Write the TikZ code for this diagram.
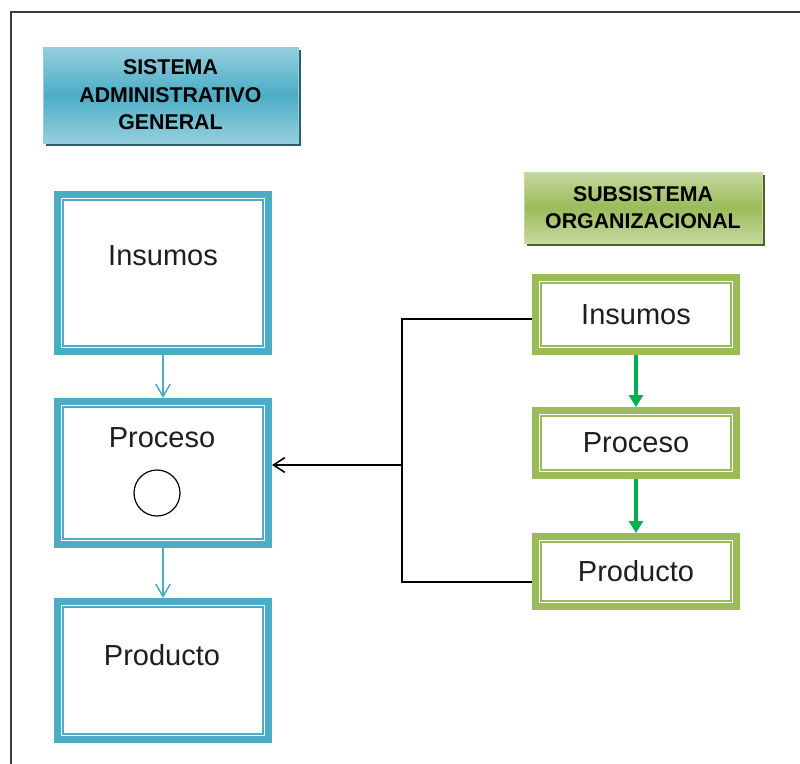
\documentclass[tikz,border=0pt]{standalone}
\usepackage{fontspec}
\setmainfont{Liberation Sans}
\usetikzlibrary{arrows.meta,calc,shadows}

\definecolor{bandblue}{HTML}{4BACC6}
\definecolor{bandgreen}{HTML}{9BBB59}
\definecolor{flowgreen}{HTML}{00B050}
\definecolor{hdrblueL}{HTML}{95CFDE}
\definecolor{hdrblueD}{HTML}{4DADC6}
\definecolor{hdrblueS}{HTML}{2D5E6B}
\definecolor{hdrgreenL}{HTML}{C6D9A0}
\definecolor{hdrgreenD}{HTML}{9BBB59}
\definecolor{hdrgreenS}{HTML}{4F6228}
\definecolor{framegray}{HTML}{3C3C3C}
\definecolor{inkgray}{HTML}{1E1E1E}

\newcommand\hdrfont{\fontsize{16pt}{20.6pt}\selectfont\bfseries}
\newcommand\bodyfont{\fontsize{21.75pt}{26pt}\selectfont}

\begin{document}
\begin{tikzpicture}[x=0.75pt,y=-0.75pt,
  hdrbox/.style={rectangle, line width=0.75pt, align=center, font=\hdrfont,
    text=black, inner sep=0pt},
  hdrblue/.style={hdrbox, draw=hdrblueL, top color=hdrblueL, bottom color=hdrblueL,
    middle color=hdrblueD,
    drop shadow={shadow xshift=2.6pt, shadow yshift=-2.6pt, opacity=1, fill=hdrblueS}},
  hdrgreen/.style={hdrbox, draw=hdrgreenL, top color=hdrgreenL, bottom color=hdrgreenL,
    middle color=hdrgreenD,
    drop shadow={shadow xshift=2.6pt, shadow yshift=-2.6pt, opacity=1, fill=hdrgreenS}},
  stagebox/.style={rectangle, line width=5.25pt, outer sep=2.625pt, fill=white,
    inner sep=0pt, font=\bodyfont, text=inkgray},
  bluestage/.style={stagebox, draw=bandblue, minimum width=158.25pt},
  greenstage/.style={stagebox, draw=bandgreen, minimum width=150.75pt},
  innerblue/.style={draw=bandblue, line width=1.1pt},
  innergreen/.style={draw=bandgreen, line width=1.1pt},
  stagetext/.style={font=\bodyfont, text=inkgray, inner sep=0pt},
  bluelink/.style={draw=bandblue, line width=1.1pt,
    -{Straight Barb[length=9.5pt,width=11pt,line width=1.1pt]}},
  greenlink/.style={draw=flowgreen, line width=2.6pt,
    -{Triangle[length=9pt,width=10.5pt]}},
  feedline/.style={draw=black, line width=1.2pt},
  feedarrow/.style={feedline, -{Straight Barb[length=8.5pt,width=11pt,line width=1.2pt]}}
]
\useasboundingbox (0,0) rectangle (800,764);

% outer frame (top and left edges)
\draw[framegray, line width=1.5pt] (800,12) -- (11,12) -- (11,764);

% headers
\node[hdrblue, minimum width=191.25pt, minimum height=72pt] (hA) at (170.5,95)
  {SISTEMA\\ADMINISTRATIVO\\GENERAL};
\node[hdrgreen, minimum width=178.5pt, minimum height=53.25pt] (hB) at (643,207.5)
  {SUBSISTEMA\\ORGANIZACIONAL};

% general administrative system
\node[bluestage, minimum height=117.75pt] (bi) at (163,273) {};
\node[bluestage, minimum height=107.25pt] (bp) at (163,473) {};
\node[bluestage, minimum height=103.5pt]  (bo) at (163,670.5) {};
\foreach \n in {bi,bp,bo}
  \draw[innerblue] ($(\n.north west)+(9,9)$) rectangle ($(\n.south east)+(-9,-9)$);
\node[stagetext] (tbi) at (163,256) {Insumos};
\node[stagetext] (tbp) at (162,438) {Proceso};
\node[stagetext] (tbo) at (162,655) {Producto};
\node[draw=black, line width=0.9pt, circle, minimum size=34.5pt, inner sep=0pt] (ring) at (157,493) {};

\draw[bluelink] (bi.south) -- (bp.north);
\draw[bluelink] (bp.south) -- (bo.north);

% organizational subsystem
\node[greenstage, minimum height=55.5pt]  (gi) at (636,314.5) {Insumos};
\node[greenstage, minimum height=48.75pt] (gp) at (636,443) {Proceso};
\node[greenstage, minimum height=52.5pt]  (go) at (636,571.5) {Producto};
\foreach \n in {gi,gp,go}
  \draw[innergreen] ($(\n.north west)+(9,9)$) rectangle ($(\n.south east)+(-9,-9)$);

\draw[greenlink] (gi.south) -- (gp.north);
\draw[greenlink] (gp.south) -- (go.north);

% feedback into the process
\coordinate (j) at (402,465);
\draw[feedline] ($(gi.west)+(0,4.5)$) -| (j) |- ($(go.west)+(0,10.5)$);
\draw[feedarrow] (j) -- (bp.east |- j);
\end{tikzpicture}
\end{document}
